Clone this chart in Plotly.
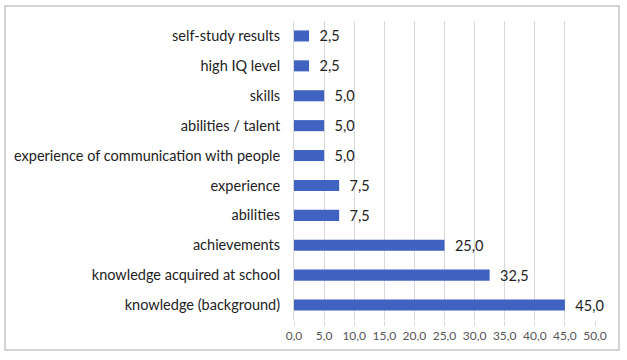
import plotly.graph_objects as go

categories = ["knowledge (background)", "knowledge acquired at school", "achievements",
              "abilities", "experience", "experience of communication with people",
              "abilities / talent", "skills", "high IQ level", "self-study results"]
values = [45.0, 32.5, 25.0, 7.5, 7.5, 5.0, 5.0, 5.0, 2.5, 2.5]
tick_vals = [0, 5, 10, 15, 20, 25, 30, 35, 40, 45, 50]

W, H = 627, 360
ml, mr, mt, mb = 294, 32, 21, 40
FONT = "Lato"

fig = go.Figure(go.Bar(
    x=values, y=categories, orientation="h",
    marker=dict(color="#4062C0", line=dict(width=0)),
    text=values, texttemplate="  %{x:.1f}", textposition="outside",
    constraintext="none",
    textfont=dict(size=14.5, color="#222222", family=FONT),
    cliponaxis=False,
))

pw = W - ml - mr
ph = H - mt - mb
bx0, bx1, by0, by1 = 5, 619, 6, 350
fig.add_shape(type="rect", xref="paper", yref="paper",
              x0=(bx0 - ml) / pw, x1=(bx1 - ml) / pw,
              y0=(H - mb - by1) / ph, y1=(H - mb - by0) / ph,
              line=dict(color="#d4d4d4", width=2))

fig.update_layout(
    width=W, height=H,
    margin=dict(l=ml, r=mr, t=mt, b=mb, autoexpand=False),
    plot_bgcolor="white", paper_bgcolor="white",
    separators=",.",
    bargap=0.63,
    showlegend=False,
    font=dict(family=FONT, size=14.5, color="#222222"),
    xaxis=dict(range=[0, 50], tickvals=tick_vals, tickformat=".1f",
               showgrid=True, gridcolor="#d9d9d9", gridwidth=1,
               zeroline=False, ticks="outside", ticklen=5, tickcolor="#d9d9d9",
               tickfont=dict(size=12, color="#555555"), showline=False,
               automargin=False),
    yaxis=dict(categoryorder="array", categoryarray=categories,
               showline=True, linecolor="#d9d9d9", linewidth=1,
               ticks="", ticklabelstandoff=10, automargin=False,
               tickfont=dict(size=14.5, color="#222222")),
)

fig.write_html("out.html", config={"displayModeBar": False},
               post_script="document.body.style.margin='0';")
